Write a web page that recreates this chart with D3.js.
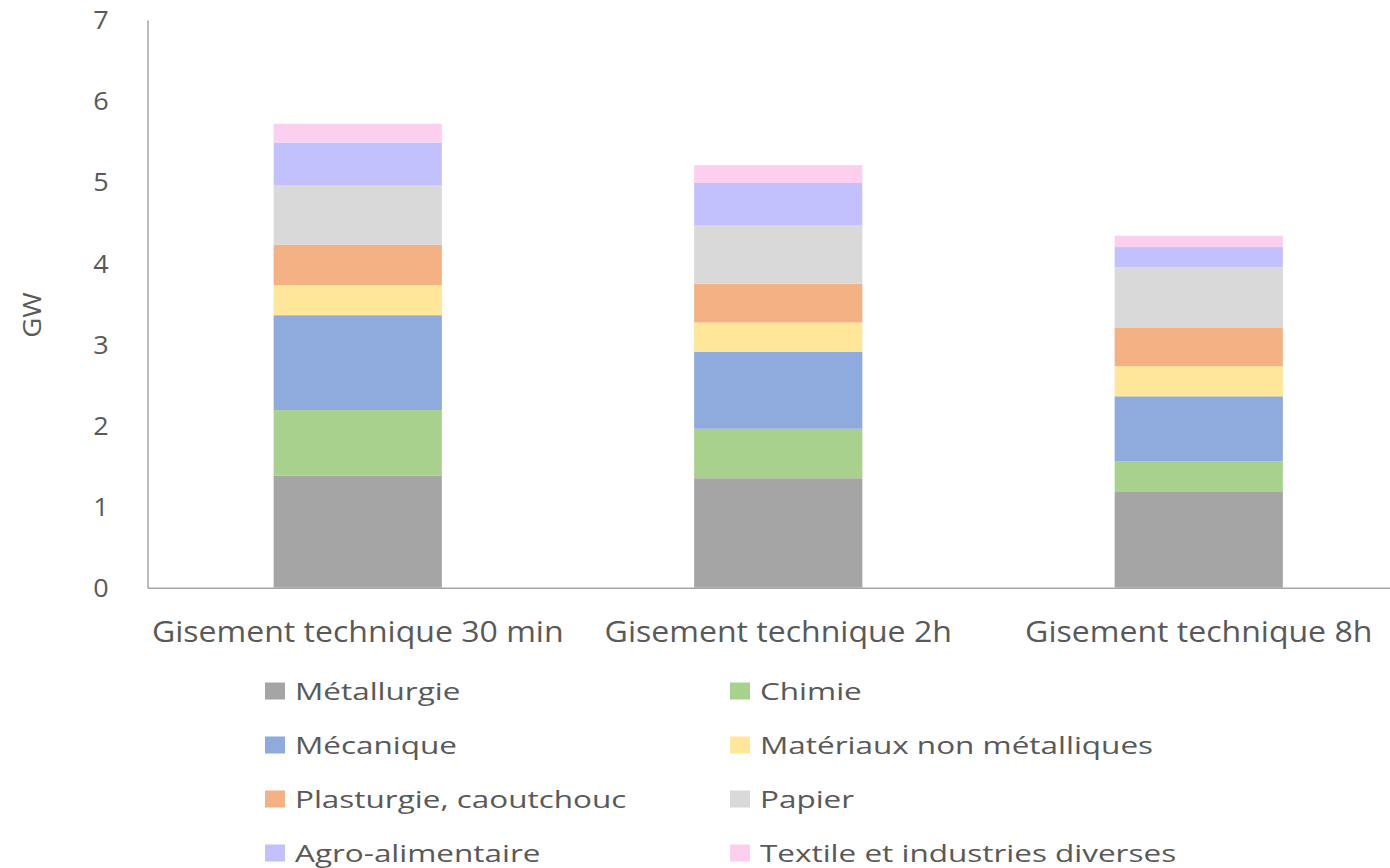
<!DOCTYPE html>
<html>
<head>
<meta charset="utf-8">
<script src="https://cdn.jsdelivr.net/npm/d3@7"></script>
<style>
  html, body { margin: 0; padding: 0; background: #fff; }
  svg { display: block; }
  text { font-family: "Open Sans", "DejaVu Sans", sans-serif; fill: #595959; }
</style>
</head>
<body>
<svg id="chart" width="1390" height="868"></svg>
<script>
// Catégories (horizon de mobilisation du gisement)
const categories = ["Gisement technique 30 min", "Gisement technique 2h", "Gisement technique 8h"];

// Secteurs industriels, empilés du bas vers le haut
const sectors = [
  "Métallurgie", "Chimie", "Mécanique", "Matériaux non métalliques",
  "Plasturgie, caoutchouc", "Papier", "Agro-alimentaire", "Textile et industries diverses"
];

// Puissance par secteur (GW), une valeur par catégorie
const metallurgie = [1.38, 1.35, 1.18];
const chimie      = [0.81, 0.61, 0.38];
const mecanique   = [1.17, 0.95, 0.80];
const materiaux   = [0.37, 0.36, 0.37];
const plasturgie  = [0.50, 0.48, 0.48];
const papier      = [0.73, 0.72, 0.74];
const agro        = [0.53, 0.52, 0.25];
const textile     = [0.23, 0.22, 0.14];

const yTicks = [0, 1, 2, 3, 4, 5, 6, 7];
const yLabel = "GW";

const colors = ["#a5a5a5", "#a9d18e", "#8faadc", "#ffe699", "#f4b183", "#d9d9d9", "#c2c1fe", "#fdcfee"];

const seriesValues = [metallurgie, chimie, mecanique, materiaux, plasturgie, papier, agro, textile];

const rows = categories.map((c, i) => {
  const r = { category: c };
  sectors.forEach((s, k) => { r[s] = seriesValues[k][i]; });
  return r;
});

const svg = d3.select("#chart");
const plot = { left: 147.5, right: 1409, top: 20, bottom: 587.7 };

const x = d3.scaleBand().domain(categories).range([plot.left, plot.right]).paddingInner(0.6).paddingOuter(0.3);
const y = d3.scaleLinear().domain([0, 7]).range([plot.bottom, plot.top]);
const color = d3.scaleOrdinal().domain(sectors).range(colors);

const stacked = d3.stack().keys(sectors)(rows);

// Barres empilées
svg.append("g").selectAll("g")
  .data(stacked)
  .join("g")
  .attr("fill", d => color(d.key))
  .selectAll("rect")
  .data(d => d)
  .join("rect")
  .attr("x", d => x(d.data.category))
  .attr("width", x.bandwidth())
  .attr("y", d => y(d[1]))
  .attr("height", d => y(d[0]) - y(d[1]));

// Axe vertical
const yAxis = d3.axisLeft(y).tickValues(yTicks).tickSize(0).tickPadding(36).tickFormat(d3.format("d"));
const gy = svg.append("g").attr("transform", `translate(${plot.left},0)`).call(yAxis);
gy.select(".domain").attr("stroke", "#a6a6a6").attr("stroke-width", 1.5);
gy.selectAll("text").attr("font-size", 25).attr("dy", "0.35em")
  .attr("transform", "scale(1.08,1)").style("fill", "#595959");

// Axe horizontal
const xAxis = d3.axisBottom(x).tickSize(0).tickPadding(0);
const gx = svg.append("g").attr("transform", `translate(0,${plot.bottom})`).call(xAxis);
gx.select(".domain").attr("stroke", "#a6a6a6").attr("stroke-width", 1.5);
gx.selectAll("text").attr("font-size", 29).attr("dy", 0).attr("y", 54)
  .attr("transform", "scale(1.105,1)").style("fill", "#595959");

// Titre de l'axe
svg.append("text")
  .attr("transform", "translate(41,315) rotate(-90) scale(1.1,1)")
  .attr("text-anchor", "middle")
  .attr("font-size", 25)
  .text(yLabel);

// Légende sur deux colonnes
const legend = svg.append("g").selectAll("g")
  .data(sectors)
  .join("g")
  .attr("transform", (d, i) => `translate(${i % 2 === 0 ? 265 : 730},${691 + Math.floor(i / 2) * 54})`);
legend.append("rect").attr("x", 0).attr("y", -8.5).attr("width", 20).attr("height", 17).attr("fill", d => color(d));
legend.append("text")
  .attr("transform", "translate(30,0) scale(1.285,1)")
  .attr("dy", "0.36em").attr("font-size", 24.5).text(d => d);
</script>
</body>
</html>
